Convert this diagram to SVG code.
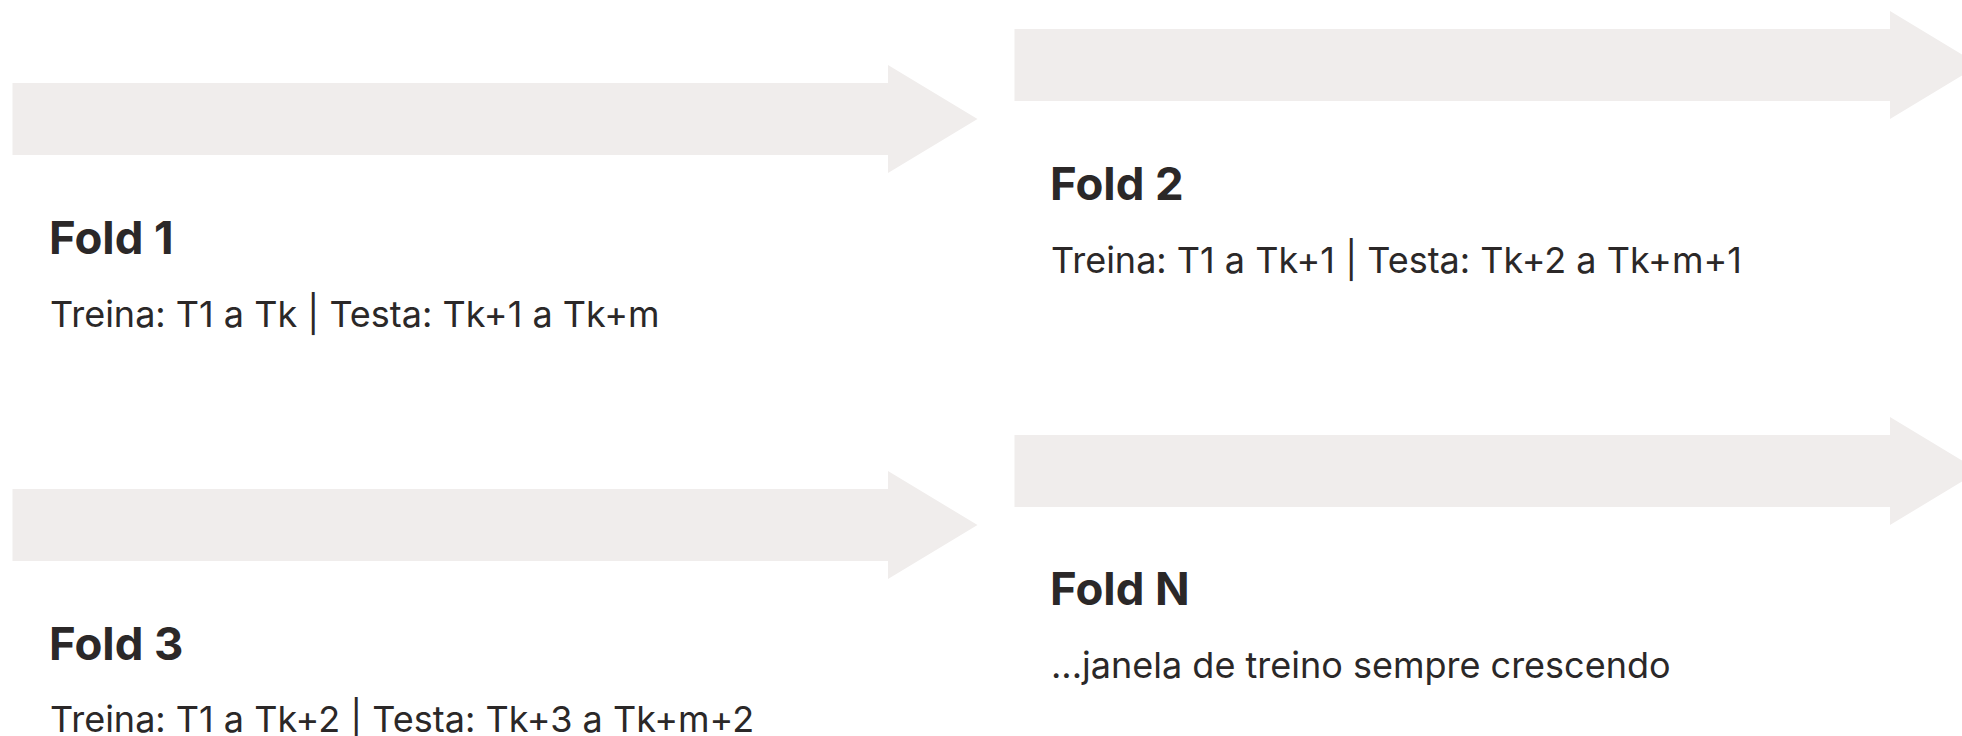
<svg xmlns="http://www.w3.org/2000/svg" width="1962" height="736" viewBox="0 0 1962 736">
<style>
.arrow{fill:#f0edec}
.title{font-family:Inter,"Liberation Sans",sans-serif;font-weight:700;font-size:45.5px;fill:#2b2828}
.sub{font-family:Inter,"Liberation Sans",sans-serif;font-weight:400;font-size:36px;fill:#2b2828}
</style>
<rect width="1962" height="736" fill="#ffffff"/>
<defs>
<path id="arr" d="M0,-36 H875.5 V-54 L965,0 L875.5,54 V36 H0 Z"/>
</defs>
<g id="connectors">
<use href="#arr" class="arrow" x="12.5" y="119"/>
<use href="#arr" class="arrow" x="1014.5" y="65"/>
<use href="#arr" class="arrow" x="12.5" y="525"/>
<use href="#arr" class="arrow" x="1014.5" y="471"/>
</g>
<g id="fold1">
<text class="title" x="49" y="254">Fold 1</text>
<text class="sub" x="50" y="326.5">Treina: T1 a Tk | Testa: Tk+1 a Tk+m</text>
</g>
<g id="fold2">
<text class="title" x="1050" y="200.3">Fold 2</text>
<text class="sub" x="1051" y="272.8">Treina: T1 a Tk+1 | Testa: Tk+2 a Tk+m+1</text>
</g>
<g id="fold3">
<text class="title" x="49" y="659.5">Fold 3</text>
<text class="sub" x="50" y="732">Treina: T1 a Tk+2 | Testa: Tk+3 a Tk+m+2</text>
</g>
<g id="foldN">
<text class="title" x="1050" y="605">Fold N</text>
<text class="sub" x="1051" y="677.7">...janela de treino sempre crescendo</text>
</g>
</svg>
